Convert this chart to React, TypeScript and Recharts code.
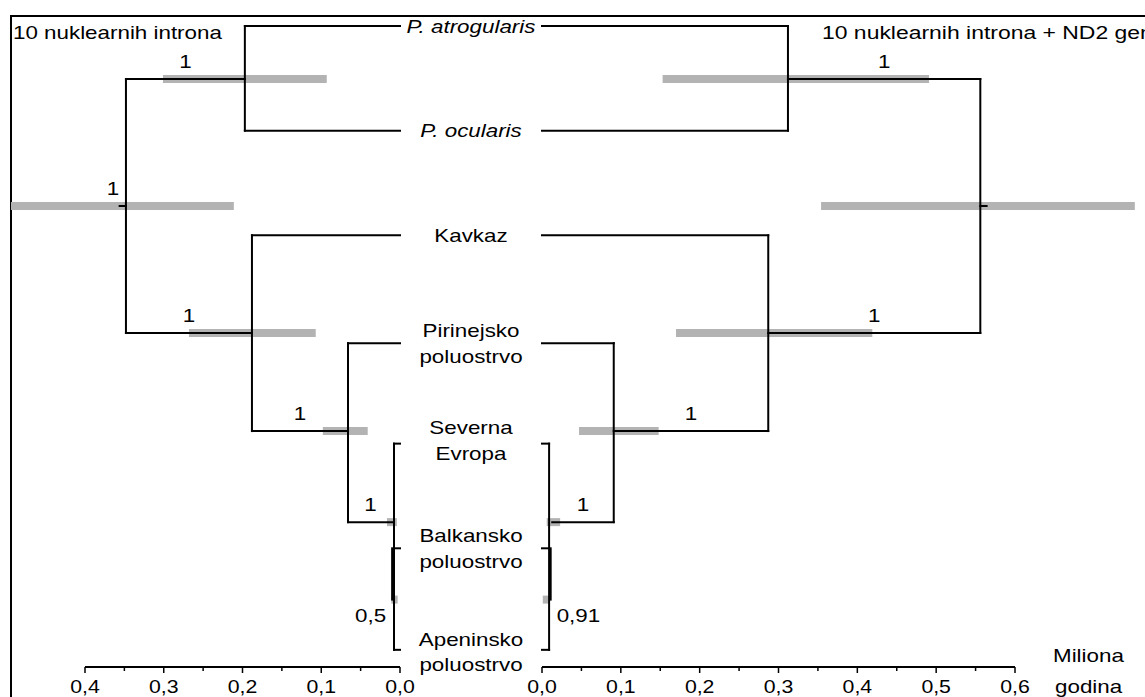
import React from "react";
import { ComposedChart, XAxis, YAxis, Scatter, ReferenceLine } from "recharts";

const W = 1145;
const H = 697;
const FONT = "'Liberation Sans', Arial, sans-serif";
const GRAY = "#b3b3b3";

// tip labels, top to bottom
const tipLines = [
  ["P. atrogularis"],
  ["P. ocularis"],
  ["Kavkaz"],
  ["Pirinejsko", "poluostrvo"],
  ["Severna", "Evropa"],
  ["Balkansko", "poluostrvo"],
  ["Apeninsko", "poluostrvo"],
];
const tipItalic = [true, true, false, false, false, false, false];
const tipRow = [0, 1, 2, 3.03, 3.96, 4.99, 5.98];
// first four tips hang on a node, the last three sit in a collapsed bracket
const tipParent = [1, 1, 2, 3];
const groupRows = [3.99, 4.99, 5.96];

// internal nodes: root, atrogularis+ocularis, Kavkaz+rest, Pirineji+rest, Evropa group, Balkan+Apenin
const nodeRow = [1.72, 0.506, 2.933, 3.87, 4.74, 5.48];
const nodeParent = [-1, 0, 0, 2, 3, 4];

// 10 nuklearnih introna (Myr)
const leftAge = [0.348, 0.197, 0.188, 0.066, 0.009, 0.01];
const leftLow = [0.211, 0.093, 0.107, 0.041, 0.004, 0.003];
const leftHigh = [0.494, 0.301, 0.268, 0.098, 0.0165, 0.011];
const leftSupport = ["1", "1", "1", "1", "1", "0,5"];
const leftGroupAge = 0.0076;

// 10 nuklearnih introna + ND2 gen (Myr)
const rightAge = [0.556, 0.312, 0.287, 0.091, 0.013, 0.011];
const rightLow = [0.354, 0.153, 0.17, 0.047, 0.006, 0.001];
const rightHigh = [0.752, 0.491, 0.419, 0.148, 0.023, 0.01];
const rightSupport = ["", "1", "1", "1", "1", "0,91"];
const rightGroupAge = 0.009;

const leftTicks = [0, 0.05, 0.1, 0.15, 0.2, 0.25, 0.3, 0.35, 0.4];
const rightTicks = [0, 0.05, 0.1, 0.15, 0.2, 0.25, 0.3, 0.35, 0.4, 0.45, 0.5, 0.55, 0.6];

const ROW_DOMAIN = [-0.105, 6.124];

const Txt = ({ x, y, anchor = "start", size = 18.5, sx = 1.21, italic = false, children }: any) => (
  <text
    transform={`translate(${x},${y}) scale(${sx},1)`}
    textAnchor={anchor}
    dominantBaseline="central"
    fontSize={size}
    fontFamily={FONT}
    fontStyle={italic ? "italic" : "normal"}
    fill="#000"
  >
    {children}
  </text>
);

const fmt = (v: number) => v.toFixed(1).replace(".", ",");

const AxisTick = (props: any) => {
  const { x, y, payload } = props;
  const v = payload.value;
  const major = Math.abs(v * 10 - Math.round(v * 10)) < 1e-6;
  return (
    <g>
      <line x1={x} x2={x} y1={y} y2={y + (major ? 6 : 4)} stroke="#000" strokeWidth={1.5} />
      {major && (
        <Txt x={x} y={y + 20} anchor="middle" sx={1.15}>
          {fmt(v)}
        </Txt>
      )}
    </g>
  );
};

function Tree({ side, age, low, high, support, groupAge, ticks, margin }: any) {
  const left = side === "left";
  const out = left ? -1 : 1;

  const segs: number[][] = [];
  for (let k = 1; k <= 4; k++) segs.push([age[nodeParent[k]], nodeRow[k], age[k], nodeRow[k]]);
  tipParent.forEach((p, t) => segs.push([age[p], tipRow[t], 0, tipRow[t]]));
  for (let k = 0; k <= 3; k++) {
    const rows = [
      ...tipParent.map((p, t) => (p === k ? tipRow[t] : null)),
      ...nodeParent.map((p, j) => (p === k ? nodeRow[j] : null)),
    ].filter((r) => r !== null) as number[];
    segs.push([age[k], Math.min(...rows), age[k], Math.max(...rows)]);
  }
  segs.push([groupAge, groupRows[0], groupAge, groupRows[groupRows.length - 1]]);
  groupRows.forEach((r) => segs.push([groupAge, r, 0, r]));
  segs.push([age[5], groupRows[1], age[5], nodeRow[5]]);
  segs.push([age[0], nodeRow[0], age[0] + 0.008, nodeRow[0]]);

  const labels: any[] = [];
  support.forEach((s: string, k: number) => {
    if (!s) return;
    if (k === 0) labels.push({ age: age[0] + 0.0165, row: nodeRow[0], text: s, pos: "above" });
    else if (k === 5) labels.push({ age: age[5], row: nodeRow[5], text: s, pos: "side" });
    else labels.push({ age: (age[k] + age[nodeParent[k]]) / 2, row: nodeRow[k], text: s, pos: "above" });
  });

  const tips = tipRow.map((r, i) => ({ age: 0, row: r, i }));

  return (
    <div style={{ position: "absolute", left: 0, top: 0 }}>
      <ComposedChart width={W} height={H} margin={margin}>
        <XAxis
          type="number"
          dataKey="age"
          domain={[ticks[0], ticks[ticks.length - 1]]}
          reversed={left}
          ticks={ticks}
          interval={0}
          tickLine={false}
          tickSize={0}
          tickMargin={0}
          axisLine={{ stroke: "#000", strokeWidth: 2 }}
          tick={<AxisTick />}
          height={30}
        />
        <YAxis type="number" dataKey="row" domain={ROW_DOMAIN} reversed hide />
        {age.map((_: number, k: number) => (
          <ReferenceLine
            key={"hpd" + k}
            segment={[
              { x: low[k], y: nodeRow[k] },
              { x: high[k], y: nodeRow[k] },
            ]}
            stroke={GRAY}
            strokeWidth={8}
            ifOverflow="visible"
          />
        ))}
        {segs.map((s, i) => (
          <ReferenceLine
            key={"br" + i}
            segment={[
              { x: s[0], y: s[1] },
              { x: s[2], y: s[3] },
            ]}
            stroke="#000"
            strokeWidth={2}
            strokeLinecap="square"
            ifOverflow="visible"
          />
        ))}
        <Scatter
          data={labels}
          isAnimationActive={false}
          shape={(p: any) => {
            const d = p.payload ?? p;
            if (d.pos === "side")
              return (
                <Txt x={p.cx + out * 6} y={p.cy + 16} anchor={left ? "end" : "start"}>
                  {d.text}
                </Txt>
              );
            return (
              <Txt x={p.cx} y={p.cy - 18} anchor="middle">
                {d.text}
              </Txt>
            );
          }}
        />
        {left && (
          <Scatter
            data={tips}
            isAnimationActive={false}
            shape={(p: any) => {
              const d = p.payload ?? p;
              const lines = tipLines[d.i];
              const lh = 25.5;
              return (
                <g>
                  {lines.map((t, j) => (
                    <Txt
                      key={j}
                      x={p.cx + 71}
                      y={p.cy + (j - (lines.length - 1) / 2) * lh}
                      anchor="middle"
                      italic={tipItalic[d.i]}
                    >
                      {t}
                    </Txt>
                  ))}
                </g>
              );
            }}
          />
        )}
      </ComposedChart>
    </div>
  );
}

export default function App() {
  return (
    <div
      style={{
        position: "absolute",
        left: 0,
        top: 0,
        width: W,
        height: H,
        overflow: "hidden",
        background: "#fff",
      }}
    >
      <div
        style={{
          position: "absolute",
          left: 10,
          top: 15,
          width: 1400,
          height: 900,
          borderLeft: "2px solid #000",
          borderTop: "2px solid #000",
        }}
      />
      <Tree
        side="left"
        age={leftAge}
        low={leftLow}
        high={leftHigh}
        support={leftSupport}
        groupAge={leftGroupAge}
        ticks={leftTicks}
        margin={{ top: 15, bottom: 0, left: 85, right: W - 400 }}
      />
      <Tree
        side="right"
        age={rightAge}
        low={rightLow}
        high={rightHigh}
        support={rightSupport}
        groupAge={rightGroupAge}
        ticks={rightTicks}
        margin={{ top: 15, bottom: 0, left: 542, right: W - 1015 }}
      />
      <svg width={W} height={H} style={{ position: "absolute", left: 0, top: 0, pointerEvents: "none" }}>
        <Txt x={13} y={32}>10 nuklearnih introna</Txt>
        <Txt x={822} y={32} sx={1.24}>10 nuklearnih introna + ND2 gen</Txt>
        <Txt x={1053} y={655}>Miliona</Txt>
        <Txt x={1055} y={686}>godina</Txt>
      </svg>
    </div>
  );
}
